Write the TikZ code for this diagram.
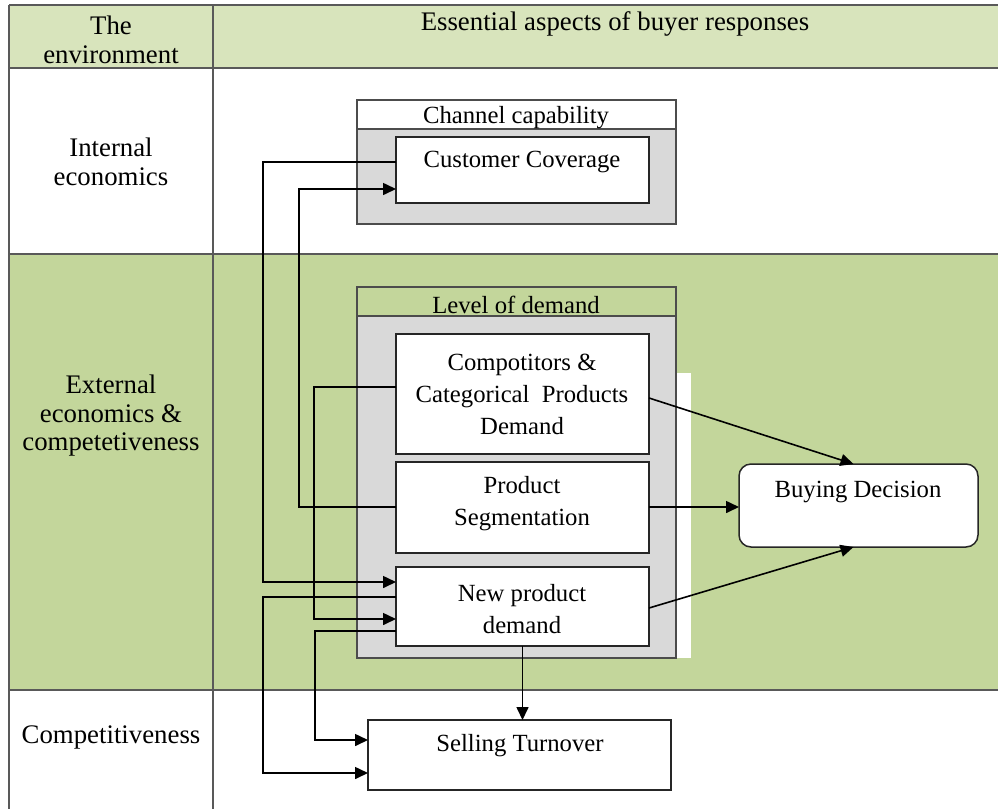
\documentclass[tikz,border=0pt]{standalone}
\usepackage{fontspec}
\setmainfont{Liberation Serif}
\usetikzlibrary{arrows.meta}
\definecolor{hdr}{HTML}{D8E4BC}
\definecolor{grn}{HTML}{C3D69B}
\definecolor{gry}{HTML}{D9D9D9}
\definecolor{rulec}{HTML}{595959}
\begin{document}
\begin{tikzpicture}[x=1pt,y=-1pt,
 box/.style={draw=black!85, line width=1.5pt, fill=white, inner sep=0pt, outer sep=0pt, anchor=north west},
 grp/.style={draw=black!70, line width=1.5pt, inner sep=0pt, outer sep=0pt, anchor=north west},
 tab/.style={font=\fontsize{26.8}{29.5}\selectfont, align=center, inner sep=0pt},
 txt/.style={font=\fontsize{24.7}{32}\selectfont, align=center, inner sep=0pt},
 arr/.style={line width=1.6pt, -{Triangle[length=13pt,width=12pt]}},
 tline/.style={draw=rulec, line width=2pt}]
\useasboundingbox (0,0) rectangle (998,809);
% table background
\fill[hdr] (9,5) rectangle (998,68);
\fill[grn] (9,254) rectangle (998,690);
\fill[white] (675,373) rectangle (691,658);
\draw[tline] (9,5) -- (998,5);
\draw[tline] (9,68) -- (998,68);
\draw[tline] (9,254) -- (998,254);
\draw[tline] (9,690) -- (998,690);
\draw[tline] (9,5) -- (9,809);
\draw[tline] (213,5) -- (213,809);
% table labels
\node[tab] (henv) at (111,40) {The\\environment};
\node[tab] (hasp) at (615,24) {Essential aspects of buyer responses};
\node[tab] (rint) at (111,162) {Internal\\economics};
\node[tab, font=\fontsize{26.8}{28.5}\selectfont] (rext) at (111,416) {External\\economics \&\\competetiveness};
\node[tab] (rcomp) at (111,737) {Competitiveness};
% groups
\node[grp, fill=white, minimum width=319pt, minimum height=29pt] (cctitle) at (357,100) {};
\node[grp, fill=gry, minimum width=319pt, minimum height=95pt] (ccbody) at (357,129) {};
\node[grp, fill=grn, minimum width=319pt, minimum height=29pt] (ldtitle) at (357,287) {};
\node[grp, fill=gry, minimum width=319pt, minimum height=342pt] (ldbody) at (357,316) {};
% boxes
\node[box, minimum width=253pt, minimum height=66pt] (cc) at (396,137) {};
\node[box, minimum width=253pt, minimum height=120pt] (cpd) at (396,334) {};
\node[box, minimum width=253pt, minimum height=91pt] (ps) at (396,462) {};
\node[box, minimum width=253pt, minimum height=79pt] (npd) at (396,567) {};
\node[box, rounded corners=12pt, minimum width=239pt, minimum height=83pt] (bd) at (739,464) {};
\node[box, minimum width=303pt, minimum height=70pt] (st) at (368,720) {};
% texts
\node[txt] (cctitletxt) at (516,118) {Channel capability};
\node[txt] (cctxt) at (522,162) {Customer Coverage};
\node[txt] (ldtitletxt) at (516,305) {Level of demand};
\node[txt] (cpdtxt) at (522,394) {Compotitors \&\\Categorical\ \ Products\\Demand};
\node[txt] (pstxt) at (522,504) {Product\\Segmentation};
\node[txt] (npdtxt) at (522,609) {New product\\demand};
\node[txt] (bdtxt) at (858,492) {Buying Decision};
\node[txt] (sttxt) at (520,746) {Selling Turnover};
% connectors
\draw[arr] (cc.west |- 0,162) -- (263,162) -- (263,582) -- (npd.west |- 0,582);
\draw[arr] (ps.west |- 0,507) -- (299,507) -- (299,189) -- (cc.west |- 0,189);
\draw[arr] (cpd.west |- 0,387) -- (314,387) -- (314,619) -- (npd.west |- 0,619);
\draw[arr] (npd.west |- 0,597) -- (263,597) -- (263,773) -- (st.west |- 0,773);
\draw[arr] (npd.west |- 0,631) -- (315,631) -- (315,740) -- (st.west |- 0,740);
\draw[arr] (npd.south) -- (npd.south |- st.north);
\draw[arr] (cpd.east |- 0,398) -- ([xshift=-5pt]bd.north);
\draw[arr] (ps.east |- 0,507) -- (bd.west |- 0,507);
\draw[arr] (npd.east |- 0,608) -- ([xshift=-5pt]bd.south);
\end{tikzpicture}
\end{document}
